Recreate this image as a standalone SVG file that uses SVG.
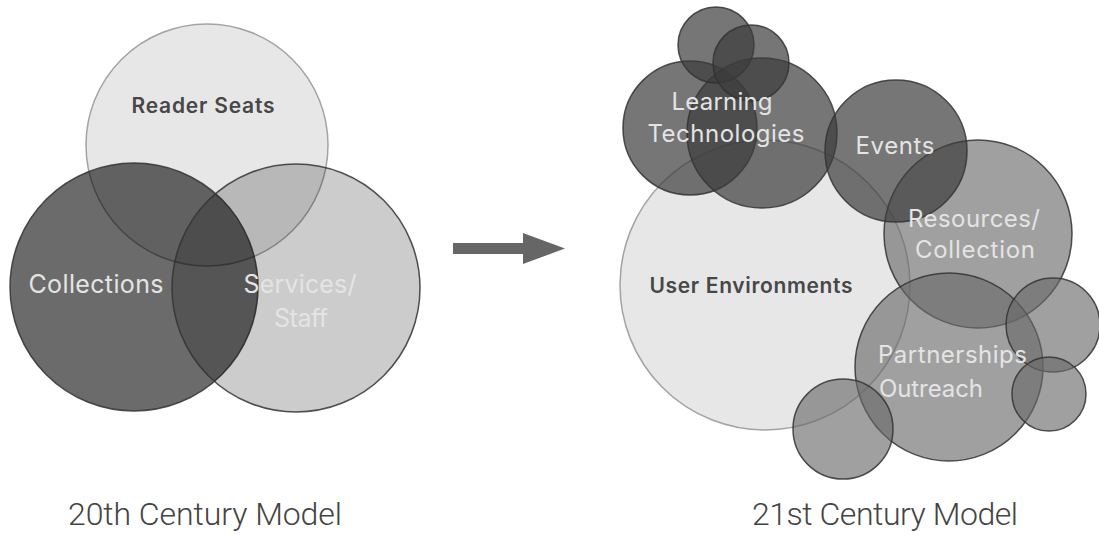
<svg xmlns="http://www.w3.org/2000/svg" width="1099" height="536" viewBox="0 0 1099 536">
  <style>
    .base { fill: #e7e7e7; stroke: #a3a3a3; stroke-width: 1.5; }
    .dark { fill: #3c3c3c; fill-opacity: 0.7; stroke: #333; stroke-opacity: 0.85; stroke-width: 1.5; }
    .mid { fill: #696969; fill-opacity: 0.63; stroke: #333; stroke-opacity: 0.85; stroke-width: 1.5; }
    .coll { fill: #000; fill-opacity: 0.58; stroke: #333; stroke-opacity: 0.85; stroke-width: 1.5; }
    .serv { fill: #000; fill-opacity: 0.2; stroke: #333; stroke-opacity: 0.85; stroke-width: 1.5; }
    .lbl-dark { font-family: Inter, "Liberation Sans", sans-serif; font-weight: 600; fill: #474747; }
    .lbl-light { font-family: Inter, "Liberation Sans", sans-serif; font-weight: 400; fill: #e4e4e4; }
    .title { font-family: Roboto, "Liberation Sans", sans-serif; font-weight: 300; font-size: 32px; fill: #444444; }
  </style>
  <rect width="1099" height="536" fill="#ffffff"/>

  <!-- 20th century model -->
  <g id="reader-seats">
    <circle class="base" cx="207" cy="145" r="121"/>
  </g>
  <g id="collections">
    <circle class="coll" cx="134" cy="287" r="124"/>
  </g>
  <g id="services-staff">
    <circle class="serv" cx="296" cy="288" r="124"/>
  </g>
  <g id="labels-20th">
    <text class="lbl-dark" x="203" y="113" font-size="21" text-anchor="middle" textLength="143">Reader Seats</text>
    <text class="lbl-light" x="96" y="293" font-size="25" text-anchor="middle" textLength="135">Collections</text>
    <text class="lbl-light" x="300" y="293" font-size="25" text-anchor="middle" textLength="113">Services/</text>
    <text class="lbl-light" x="301" y="327" font-size="25" text-anchor="middle" textLength="54">Staff</text>
  </g>

  <!-- 21st century model -->
  <g id="user-environments">
    <circle class="base" cx="765" cy="285" r="145"/>
  </g>
  <g id="learning-technologies">
    <circle class="dark" cx="690" cy="128" r="67"/>
    <circle class="dark" cx="762" cy="133" r="75"/>
    <circle class="dark" cx="716" cy="45" r="38"/>
    <circle class="dark" cx="751" cy="63" r="38"/>
  </g>
  <g id="resources-collection">
    <circle class="mid" cx="978" cy="234" r="94"/>
  </g>
  <g id="events">
    <circle class="dark" cx="896" cy="151" r="71"/>
  </g>
  <g id="partnerships-outreach">
    <circle class="mid" cx="949" cy="367" r="94"/>
    <circle class="mid" cx="1053" cy="325" r="47"/>
    <circle class="mid" cx="1049" cy="394" r="37"/>
    <circle class="mid" cx="843" cy="429" r="50"/>
  </g>
  <g id="labels-21st">
    <text class="lbl-dark" x="751" y="293" font-size="21" text-anchor="middle" textLength="203">User Environments</text>
    <text class="lbl-light" x="722" y="110" font-size="24" text-anchor="middle" textLength="101">Learning</text>
    <text class="lbl-light" x="726" y="142" font-size="24" text-anchor="middle" textLength="157">Technologies</text>
    <text class="lbl-light" x="895" y="154" font-size="24" text-anchor="middle" textLength="79">Events</text>
    <text class="lbl-light" x="974" y="227" font-size="24" text-anchor="middle" textLength="132">Resources/</text>
    <text class="lbl-light" x="975" y="258" font-size="24" text-anchor="middle" textLength="120">Collection</text>
    <text class="lbl-light" x="878" y="363" font-size="24" textLength="149">Partnerships</text>
    <text class="lbl-light" x="879" y="397" font-size="24" textLength="104">Outreach</text>
  </g>

  <g id="connectors">
    <polygon points="453,243 523,243 523,233 565,248.5 523,264 523,254 453,254" fill="#666666"/>
  </g>

  <g id="titles">
    <text class="title" x="68" y="525" textLength="274">20th Century Model</text>
    <text class="title" x="752" y="525" textLength="266">21st Century Model</text>
  </g>
</svg>
